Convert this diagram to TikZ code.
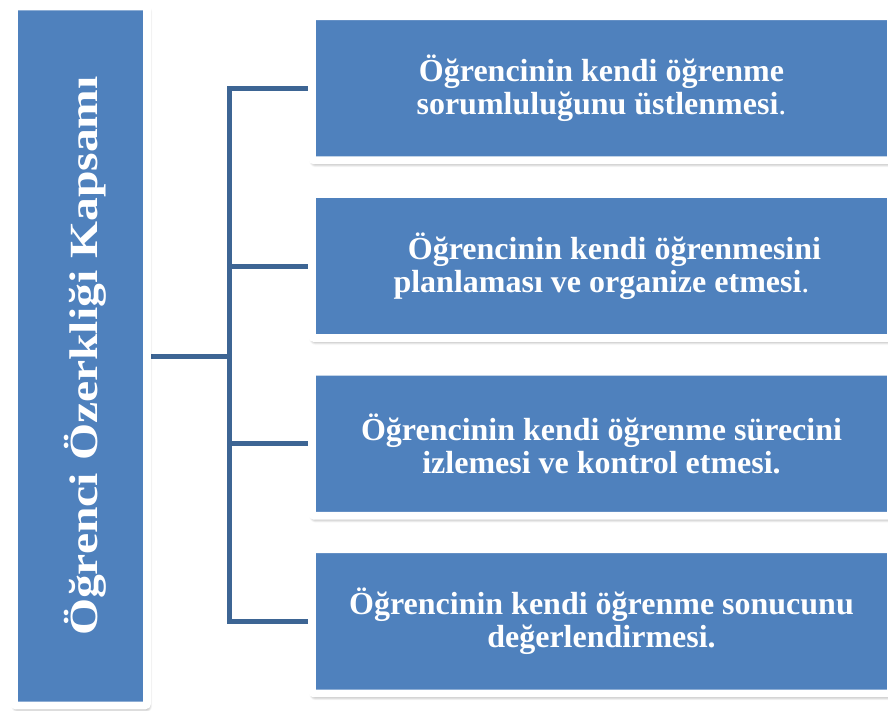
\documentclass[tikz,border=0pt]{standalone}
\usepackage{fontspec}
\setmainfont{Liberation Serif}
\usetikzlibrary{shadows.blur,backgrounds}
\definecolor{boxblue}{RGB}{79,129,189}
\definecolor{linkblue}{RGB}{61,101,148}
\begin{document}
\begin{tikzpicture}[x=1pt,y=-1pt,
  panel/.style={rectangle, fill=boxblue, draw=white, line width=7.6pt, rounded corners=2pt,
    blur shadow={shadow xshift=1.2pt, shadow yshift=-3pt, shadow blur radius=4pt, shadow blur steps=10, shadow opacity=55}},
  item/.style={panel, minimum width=579pt, minimum height=144pt, text=white,
    font=\bfseries\fontsize{32}{33}\selectfont, align=center, inner sep=0pt},
  titletext/.style={text=white, font=\bfseries\fontsize{40}{40}\selectfont, inner sep=0pt},
  link/.style={draw=linkblue, line width=5pt}]
\useasboundingbox (0,0) rectangle (888,711);
\clip (0,0) rectangle (888,711);

\node[panel, minimum width=133pt, minimum height=699pt] (root) at (80.5,356) {};
\node[titletext, rotate=90, anchor=base] (title) at (97,356) {\scalebox{1.19}[1]{Öğrenci Özerkliği Kapsamı}};

\node[item] (b1) at (601.5,88.3) {Öğrencinin kendi öğrenme\\sorumluluğunu üstlenmesi{\mdseries .}};
\node[item] (b2) at (601.5,266) {\hspace*{26pt}Öğrencinin kendi öğrenmesini\\planlaması ve organize etmesi{\mdseries .}};
\node[item] (b3) at (601.5,443.7) {Öğrencinin kendi öğrenme sürecini\\izlemesi ve kontrol etmesi.};
\node[item] (b4) at (601.5,621.4) {Öğrencinin kendi öğrenme sonucunu\\değerlendirmesi.};

\coordinate (jn) at (229.5,356);
\begin{scope}[on background layer]
\draw[link] (root.east) -- (jn);
\draw[link] (jn) |- (b1.west);
\draw[link] (jn) |- (b2.west);
\draw[link] (jn) |- (b3.west);
\draw[link] (jn) |- (b4.west);
\end{scope}
\end{tikzpicture}
\end{document}
